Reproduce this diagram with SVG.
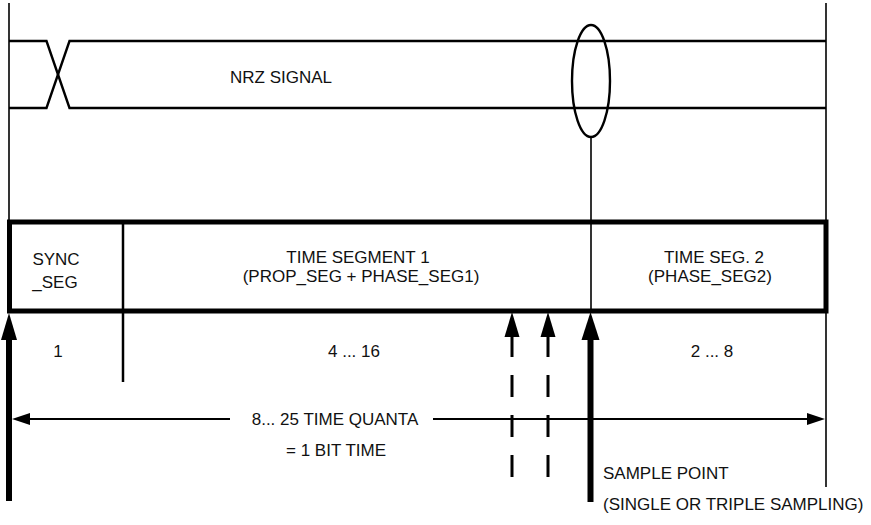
<svg xmlns="http://www.w3.org/2000/svg" width="871" height="525" viewBox="0 0 871 525">
<style>
text{font-family:"Liberation Sans",Arial,sans-serif;font-size:17px;fill:#111}
.c{text-anchor:middle}
.thin{stroke:#000;stroke-width:1.6;fill:none}
.sig{stroke:#000;stroke-width:2.4;fill:none}
.box{stroke:#000;stroke-width:5;fill:none}
.thick{stroke:#000;stroke-width:6;fill:none}
.dash{stroke:#000;stroke-width:3;fill:none;stroke-dasharray:22 18 22 18 22 18 22 18 13}
.head{fill:#000}
</style>
<g id="frame">
<line class="thin" x1="9" y1="3" x2="9" y2="222"/>
<line class="thin" x1="826" y1="3" x2="826" y2="487"/>
</g>
<g id="nrz-signal">
<path d="M9,41 H46.5 L69.5,108 H826" class="sig"/>
<path d="M9,108 H46.5 L69.5,41 H826" class="sig"/>
<text x="230" y="83">NRZ SIGNAL</text>
</g>
<g id="sample-ellipse">
<ellipse cx="591" cy="81" rx="19" ry="56" class="sig"/>
</g>
<g id="bit-box">
<rect x="9.5" y="222" width="816.5" height="89" class="box"/>
</g>
<g id="sync-seg">
<text class="c" x="56" y="265">SYNC</text>
<text class="c" x="55" y="288">_SEG</text>
<text class="c" x="58" y="357">1</text>
</g>
<g id="time-seg1">
<text class="c" x="358" y="263">TIME SEGMENT 1</text>
<text class="c" x="361" y="282">(PROP_SEG + PHASE_SEG1)</text>
<text class="c" x="354" y="357">4 ... 16</text>
</g>
<g id="time-seg2">
<text class="c" x="714" y="263">TIME SEG. 2</text>
<text class="c" x="710" y="282">(PHASE_SEG2)</text>
<text class="c" x="712" y="357">2 ... 8</text>
</g>
<g id="bit-time-label">
<text class="c" x="335" y="425">8... 25 TIME QUANTA</text>
<text class="c" x="336" y="456">= 1 BIT TIME</text>
</g>
<g id="sample-point-label">
<text x="603" y="479">SAMPLE POINT</text>
<text x="603" y="510">(SINGLE OR TRIPLE SAMPLING)</text>
</g>
<g id="connectors">
<line class="thin" x1="591" y1="137" x2="591" y2="311"/>
<line x1="123" y1="222" x2="123" y2="382" stroke="#000" stroke-width="2.5"/>
<line class="thick" x1="9" y1="336" x2="9" y2="501"/>
<path class="head" d="M9,313 L17,340 L1,340 Z"/>
<line class="thick" x1="590.5" y1="336" x2="590.5" y2="502"/>
<path class="head" d="M590.5,312 L599.5,340 L581.5,340 Z"/>
<line class="dash" x1="512" y1="335" x2="512" y2="495"/>
<path class="head" d="M512,312 L519.5,337 L504.5,337 Z"/>
<line class="dash" x1="548" y1="335" x2="548" y2="495"/>
<path class="head" d="M548,312 L555.5,337 L540.5,337 Z"/>
<line x1="28" y1="419" x2="230" y2="419" stroke="#000" stroke-width="2"/>
<path class="head" d="M12,419 L30,413 L30,425 Z"/>
<line x1="433" y1="419" x2="808" y2="419" stroke="#000" stroke-width="2"/>
<path class="head" d="M825,419 L807,413 L807,425 Z"/>
</g>
</svg>
